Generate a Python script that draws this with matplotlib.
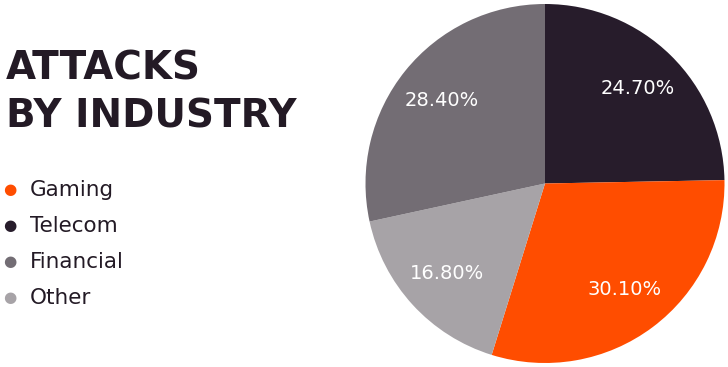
import matplotlib
matplotlib.use("Agg")
import matplotlib.pyplot as plt

# data
labels = ["Telecom", "Gaming", "Other", "Financial"]
values = [24.7, 30.1, 16.8, 28.4]
colors = ["#271c2b", "#ff4d00", "#a7a3a7", "#736d74"]

legend_labels = ["Gaming", "Telecom", "Financial", "Other"]
legend_colors = ["#ff4d00", "#271c2b", "#736d74", "#a7a3a7"]

title_lines = ["ATTACKS", "BY INDUSTRY"]

W, H = 728, 367
fig = plt.figure(figsize=(W / 100, H / 100), dpi=100)
fig.patch.set_facecolor("white")

# pie axes, placed in pixels
cx, cy, r = 545, 183.5, 179.5
ax = fig.add_axes([(cx - r) / W, (H - cy - r) / H, 2 * r / W, 2 * r / H])
wedges, texts, autotexts = ax.pie(values, colors=colors, startangle=90, counterclock=False,
                                  autopct=lambda p: "%.2f%%" % p, pctdistance=0.74,
                                  radius=1, wedgeprops=dict(linewidth=0))
for t in autotexts:
    t.set_color("white")
    t.set_fontsize(14)
    t.set_family("DejaVu Sans")
ax.set_xlim(-1, 1)
ax.set_ylim(-1, 1)
ax.set_aspect("equal")
ax.axis("off")

# title
for i, line in enumerate(title_lines):
    fig.text(6 / W, 1 - (79.5 + 48 * i) / H, line, fontsize=28, fontweight="bold",
             color="#231a25", family="DejaVu Sans", va="baseline")

# legend
for i, (lab, col) in enumerate(zip(legend_labels, legend_colors)):
    y = 1 - (190 + 36 * i) / H
    fig.text(10 / W, y, "\u25CF", color=col, fontsize=11, va="center", ha="center",
             family="DejaVu Sans")
    fig.text(30 / W, y, lab, color="#231a25", fontsize=15.5, va="center", family="DejaVu Sans")

fig.savefig("out.png", dpi=100, facecolor="white")
